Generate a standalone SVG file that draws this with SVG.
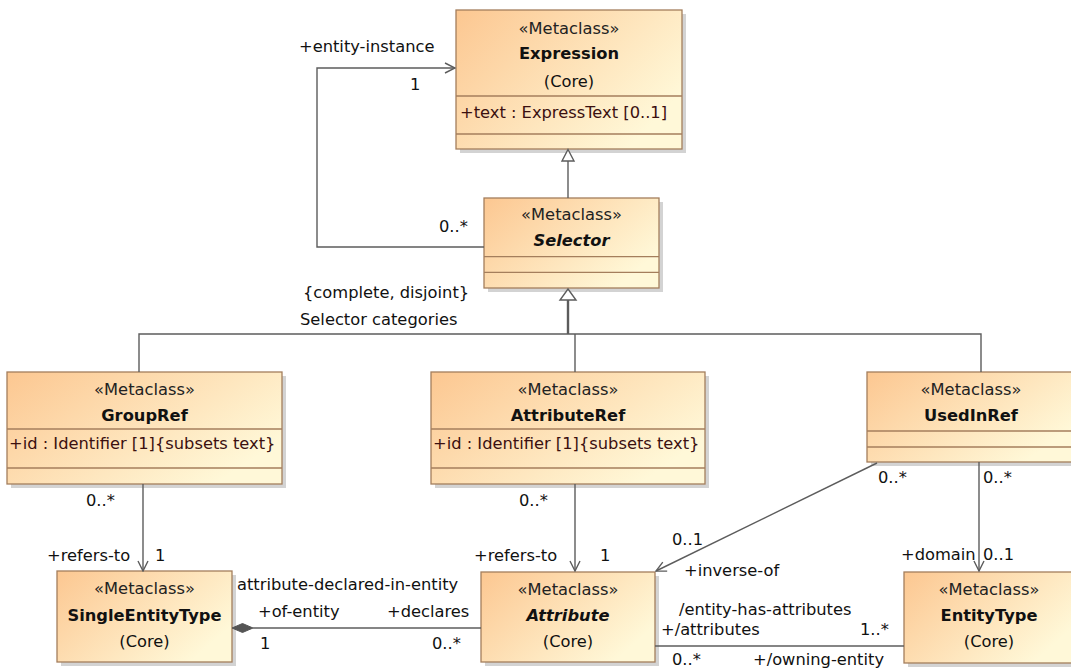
<svg xmlns="http://www.w3.org/2000/svg" width="1071" height="669" viewBox="0 0 1071 669">
<style>
text{font-family:"DejaVu Sans","Liberation Sans",sans-serif;font-size:16.3px;fill:#111}
.c{text-anchor:middle}
.st{fill:#222}
.nm{font-weight:bold;fill:#111}
.ab{font-weight:bold;font-style:italic}
.at{fill:#3b1010}
.box{fill:url(#g);stroke:#a47e5c;stroke-width:1.3}
.div{stroke:#a47e5c;stroke-width:1.3}
.sh{fill:#c4c4c4;opacity:.75}
.ln{fill:none;stroke:#5c5c5c;stroke-width:1.4}
.thick{fill:none;stroke:#5c5c5c;stroke-width:2.4}
.tri{fill:#fff;stroke:#5c5c5c;stroke-width:1.4}
</style>
<defs>
<linearGradient id="g" x1="0" y1="0" x2="1" y2="0.6">
<stop offset="0" stop-color="#fcc791"/>
<stop offset="1" stop-color="#fff8d8"/>
</linearGradient>
<marker id="open" viewBox="0 0 12 12" refX="11" refY="6" markerWidth="12" markerHeight="12" markerUnits="userSpaceOnUse" orient="auto">
<path d="M1,1 L11,6 L1,11" fill="none" stroke="#5c5c5c" stroke-width="1.4"/>
</marker>
</defs>

<g id="Expression">
<rect class="sh" x="460" y="14" width="226" height="139"/>
<rect class="box" x="456" y="10" width="226" height="139"/>
<line class="div" x1="456" y1="96" x2="682" y2="96"/>
<line class="div" x1="456" y1="134" x2="682" y2="134"/>
<text class="c st" x="569" y="33.5">«Metaclass»</text>
<text class="c nm" x="569" y="59.3">Expression</text>
<text class="c" x="569" y="86.5">(Core)</text>
<text class="at" x="460" y="118.3">+text : ExpressText [0..1]</text>
</g>

<g id="Selector">
<rect class="sh" x="488" y="202" width="175" height="90"/>
<rect class="box" x="484" y="198" width="175" height="90"/>
<line class="div" x1="484" y1="256.7" x2="659" y2="256.7"/>
<line class="div" x1="484" y1="272.3" x2="659" y2="272.3"/>
<text class="c st" x="571.5" y="220">«Metaclass»</text>
<text class="c ab" x="571.5" y="246">Selector</text>
</g>

<g id="GroupRef">
<rect class="sh" x="11" y="376" width="275" height="112"/>
<rect class="box" x="7" y="372" width="275" height="112"/>
<line class="div" x1="7" y1="429" x2="282" y2="429"/>
<line class="div" x1="7" y1="468" x2="282" y2="468"/>
<text class="c st" x="144.5" y="395">«Metaclass»</text>
<text class="c nm" x="144.5" y="420.7">GroupRef</text>
<text class="at" x="9" y="449">+id : Identifier [1]{subsets text}</text>
</g>

<g id="AttributeRef">
<rect class="sh" x="435" y="376" width="274" height="112"/>
<rect class="box" x="431" y="372" width="274" height="112"/>
<line class="div" x1="431" y1="429" x2="705" y2="429"/>
<line class="div" x1="431" y1="468" x2="705" y2="468"/>
<text class="c st" x="568" y="395">«Metaclass»</text>
<text class="c nm" x="568" y="420.7">AttributeRef</text>
<text class="at" x="433" y="449">+id : Identifier [1]{subsets text}</text>
</g>

<g id="UsedInRef">
<rect class="sh" x="871" y="376" width="208" height="90"/>
<rect class="box" x="867" y="372" width="208" height="90"/>
<line class="div" x1="867" y1="431" x2="1075" y2="431"/>
<line class="div" x1="867" y1="447" x2="1075" y2="447"/>
<text class="c st" x="971" y="395">«Metaclass»</text>
<text class="c nm" x="971" y="420.7">UsedInRef</text>
</g>

<g id="SingleEntityType">
<rect class="sh" x="61" y="575" width="175" height="91"/>
<rect class="box" x="57" y="571" width="175" height="91"/>
<text class="c st" x="144.5" y="594">«Metaclass»</text>
<text class="c nm" x="144.5" y="620.5">SingleEntityType</text>
<text class="c" x="144.5" y="647">(Core)</text>
</g>

<g id="Attribute">
<rect class="sh" x="485" y="576" width="174" height="90"/>
<rect class="box" x="481" y="572" width="174" height="90"/>
<text class="c st" x="568" y="595">«Metaclass»</text>
<text class="c ab" x="568" y="621">Attribute</text>
<text class="c" x="568" y="647">(Core)</text>
</g>

<g id="EntityType">
<rect class="sh" x="908" y="576" width="170" height="91"/>
<rect class="box" x="904" y="572" width="170" height="91"/>
<text class="c st" x="989" y="595">«Metaclass»</text>
<text class="c nm" x="989" y="621">EntityType</text>
<text class="c" x="989" y="647">(Core)</text>
</g>

<g id="connectors">
<line class="ln" x1="568" y1="198" x2="568" y2="161"/>
<path class="tri" d="M568,149.5 L574,161 L562,161 Z"/>
<path class="tri" d="M568,289 L576,300 L560,300 Z"/>
<line class="thick" x1="568" y1="300" x2="568" y2="334"/>
<path class="ln" d="M139,372 L139,334 L981,334 L981,372"/>
<line class="ln" x1="575" y1="334" x2="575" y2="372"/>
<path class="ln" d="M484,247 L317,247 L317,68 L455,68" marker-end="url(#open)"/>
<line class="ln" x1="143" y1="484" x2="143" y2="571" marker-end="url(#open)"/>
<line class="ln" x1="575" y1="484" x2="575" y2="571" marker-end="url(#open)"/>
<line class="ln" x1="877" y1="463" x2="656" y2="571" marker-end="url(#open)"/>
<line class="ln" x1="979" y1="462" x2="979" y2="571" marker-end="url(#open)"/>
<line class="ln" x1="253" y1="628" x2="481" y2="628"/>
<path d="M232,628 L242.5,623.5 L253,628 L242.5,632.5 Z" fill="#555" stroke="#555" stroke-width="1"/>
<line class="ln" x1="655" y1="646" x2="904" y2="646"/>

<text x="299" y="52">+entity-instance</text>
<text x="410" y="90">1</text>
<text x="439" y="231.5">0..*</text>
<text x="303" y="298">{complete, disjoint}</text>
<text x="300" y="325">Selector categories</text>
<text x="86" y="506">0..*</text>
<text x="47" y="561">+refers-to</text>
<text x="155" y="561">1</text>
<text x="519" y="506">0..*</text>
<text x="474" y="561">+refers-to</text>
<text x="600" y="561">1</text>
<text x="672" y="545">0..1</text>
<text x="684" y="576">+inverse-of</text>
<text x="878" y="483">0..*</text>
<text x="983" y="483">0..*</text>
<text x="901" y="560">+domain</text>
<text x="983" y="560">0..1</text>
<text x="237" y="590">attribute-declared-in-entity</text>
<text x="258" y="617">+of-entity</text>
<text x="387" y="617">+declares</text>
<text x="260" y="649">1</text>
<text x="432" y="649">0..*</text>
<text x="679" y="615">/entity-has-attributes</text>
<text x="661" y="635">+/attributes</text>
<text x="860" y="635">1..*</text>
<text x="672" y="665">0..*</text>
<text x="753" y="665">+/owning-entity</text>
</g>
</svg>
